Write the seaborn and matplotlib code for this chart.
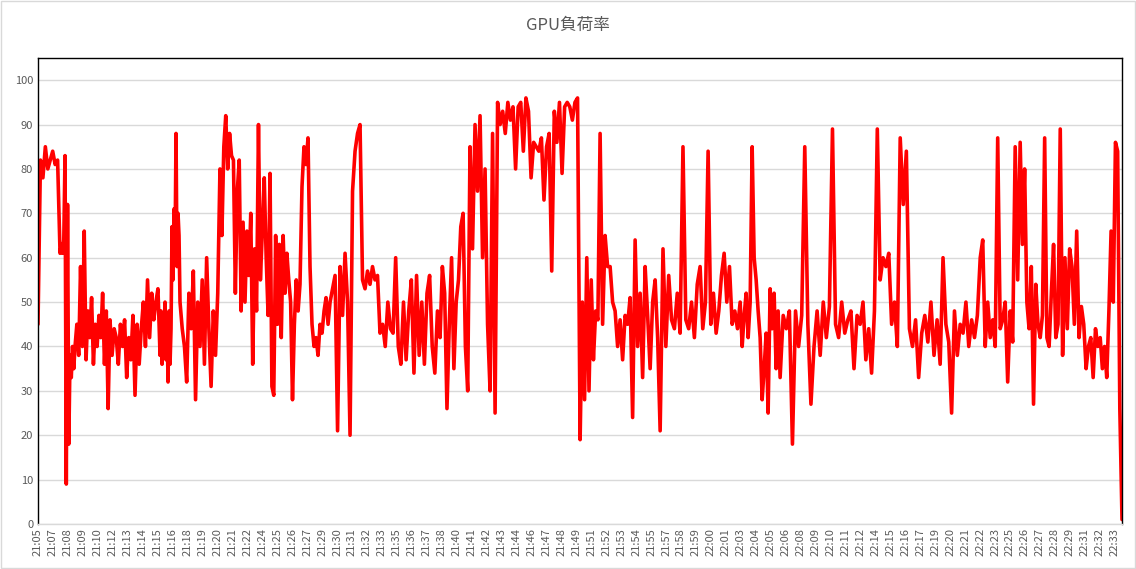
import numpy as np
import pandas as pd
import seaborn as sns
import matplotlib.pyplot as plt

# Start of each stretch, in minutes after 21:05, and the GPU load (%) in it
seg_start = [0, 1.81, 3.04, 5.91, 10.02, 11.66, 14.94, 19.05, 21.51, 23.98, 28.08, 33.01, 35.47,
             37.94, 44.51, 46.15, 51.08, 54.36, 57.65, 60.93, 64.22, 67.50, 70.79, 74.07, 77.36,
             80.64, 83.93, 87.21]
seg_end = 89.0

seg_load = [
    [45, 82, 78, 85, 80, 82, 84, 81, 82],
    [61, 63, 61, 64, 83, 9, 72, 18, 38, 33, 40, 35],
    [40, 45, 38, 58, 40, 66, 37, 48, 42, 51, 36, 45, 40, 47, 42, 52, 36, 48, 26],
    [46, 38, 44, 42, 36, 45, 40, 46, 33, 42, 37, 47, 29, 45, 36, 44, 50, 40, 55, 42, 52, 46, 50, 53],
    [38, 48, 36, 45, 42, 50, 37, 46, 32, 48, 36, 44, 67, 55, 71, 61, 88, 58, 70, 65],
    [50, 44, 40, 32, 52, 44, 57, 28, 50, 40, 55, 36, 60, 44, 31, 48, 38, 52],
    [80, 65, 85, 92, 80, 88, 83, 82, 52, 75, 82, 48, 68, 50, 66, 56, 70, 36, 62, 48, 90, 55, 66, 78, 60, 47],
    [79, 31, 29, 65, 45, 63, 42, 65, 52, 61, 55, 50, 28, 45, 55, 48],
    [54, 76, 85, 81, 87, 58, 45, 40, 42, 38, 45, 43, 48, 51, 45],
    [50, 53, 56, 21, 58, 47, 61, 50, 20, 75, 84, 88, 90, 55, 53, 57, 54, 58, 55, 56],
    [43, 45, 40, 50, 44, 43, 60, 40, 36, 50, 37, 48, 55, 34, 56, 38, 50, 36, 52, 56, 40, 34, 48],
    [42, 58, 52, 26, 45, 60, 35, 50, 55, 67, 70, 40, 30],
    [85, 62, 90, 75, 92, 60, 80, 45, 30, 88, 25, 95],
    [90, 93, 88, 95, 91, 94, 80, 94, 95, 84, 96, 93, 78, 86, 85, 84, 87, 73, 85, 88, 57, 93, 86, 95,
     79, 94, 95, 94, 91, 95, 96],
    [19, 50, 28, 60, 30, 55, 37, 48, 46],
    [88, 45, 65, 58, 58, 50, 48, 40, 46, 37, 47, 45, 51, 24, 64, 40, 52, 33, 58, 47, 35, 50, 55, 42],
    [21, 62, 40, 56, 46, 44, 52, 43, 85, 46, 44, 50, 42, 54],
    [58, 44, 50, 84, 45, 52, 43, 48, 56, 61, 50, 58, 45, 48, 44],
    [50, 40, 47, 52, 42, 50, 85, 60, 55, 48, 42, 28, 35, 43, 25, 53, 44, 52, 35, 48],
    [33, 47, 44, 48, 18, 48, 40, 47, 85, 45, 27, 40, 48],
    [38, 50, 42, 49, 89, 45, 42, 50, 43, 46, 48, 35, 47],
    [45, 50, 37, 44, 34, 48, 89, 55, 60, 58, 61, 45, 50, 40],
    [87, 72, 84, 44, 40, 46, 33, 43, 47, 41, 50, 38, 46],
    [36, 60, 45, 41, 25, 48, 38, 45, 43, 50, 40, 46, 42, 47],
    [60, 64, 40, 50, 42, 46, 40, 87, 44, 46, 50, 32, 48, 41, 85, 55],
    [86, 63, 80, 50, 44, 58, 27, 54, 45, 42, 47, 87, 42, 40, 52, 63, 42, 45],
    [89, 38, 60, 44, 62, 58, 45, 66, 42, 49, 45, 35, 40, 42, 33, 44, 40],
    [42, 35, 40, 33, 48, 66, 50, 86, 84, 26, 1],
]

time_labels = [
    "21:05", "21:07", "21:08", "21:09", "21:10", "21:12", "21:13", "21:14", "21:15", "21:16",
    "21:18", "21:19", "21:20", "21:21", "21:22", "21:24", "21:25", "21:26", "21:27", "21:29",
    "21:30", "21:31", "21:32", "21:33", "21:35", "21:36", "21:37", "21:38", "21:40", "21:41",
    "21:42", "21:43", "21:44", "21:46", "21:47", "21:48", "21:49", "21:51", "21:52", "21:53",
    "21:54", "21:55", "21:57", "21:58", "21:59", "22:00", "22:01", "22:03", "22:04", "22:05",
    "22:06", "22:08", "22:09", "22:10", "22:11", "22:12", "22:14", "22:15", "22:16", "22:17",
    "22:19", "22:20", "22:21", "22:22", "22:23", "22:25", "22:26", "22:27", "22:28", "22:29",
    "22:31", "22:32", "22:33",
]

# spread each stretch's samples evenly over its time span
bounds = seg_start + [seg_end]
minutes, load = [], []
for i, vals in enumerate(seg_load):
    last = i == len(seg_load) - 1
    t = np.linspace(bounds[i], bounds[i + 1], len(vals), endpoint=last)
    minutes.extend(t)
    load.extend(vals)
df = pd.DataFrame({"minute": minutes, "load": load})

sns.set_style("white")
plt.rcParams['font.family'] = ['Noto Sans CJK JP', 'DejaVu Sans']

fig = plt.figure(figsize=(11.36, 5.69), dpi=100)
ax = fig.add_axes([38 / 1136, 45 / 569, (1122 - 38) / 1136, (524 - 58) / 569])
sns.lineplot(data=df, x="minute", y="load", color="#ff0000", linewidth=2.6, ax=ax)

ax.set_xlim(0, seg_end)
ax.set_ylim(0, 105)
ax.set_yticks(range(0, 101, 10))
ax.yaxis.grid(True, color="#d9d9d9", linewidth=1)
ax.set_axisbelow(True)
ax.set_xticks(np.linspace(0, 88.4, len(time_labels)))
ax.set_xticklabels(time_labels, rotation=90, fontsize=8, color="#595959")
ax.tick_params(axis="y", labelsize=8, labelcolor="#595959", length=0)
ax.tick_params(axis="x", length=0, pad=3)
ax.set_xlabel("")
ax.set_ylabel("")
for s in ax.spines.values():
    s.set_color("black")
    s.set_linewidth(1)
ax.spines["bottom"].set_color("#d9d9d9")

fig.text(0.5, 1 - 25 / 569, "GPU負荷率", ha="center", va="center", fontsize=12, color="#595959")
fig.patches.append(plt.Rectangle((0.001, 0.001), 0.998, 0.998, transform=fig.transFigure,
                                 fill=False, edgecolor="#d9d9d9", linewidth=1))

fig.savefig("out.png", dpi=100)
